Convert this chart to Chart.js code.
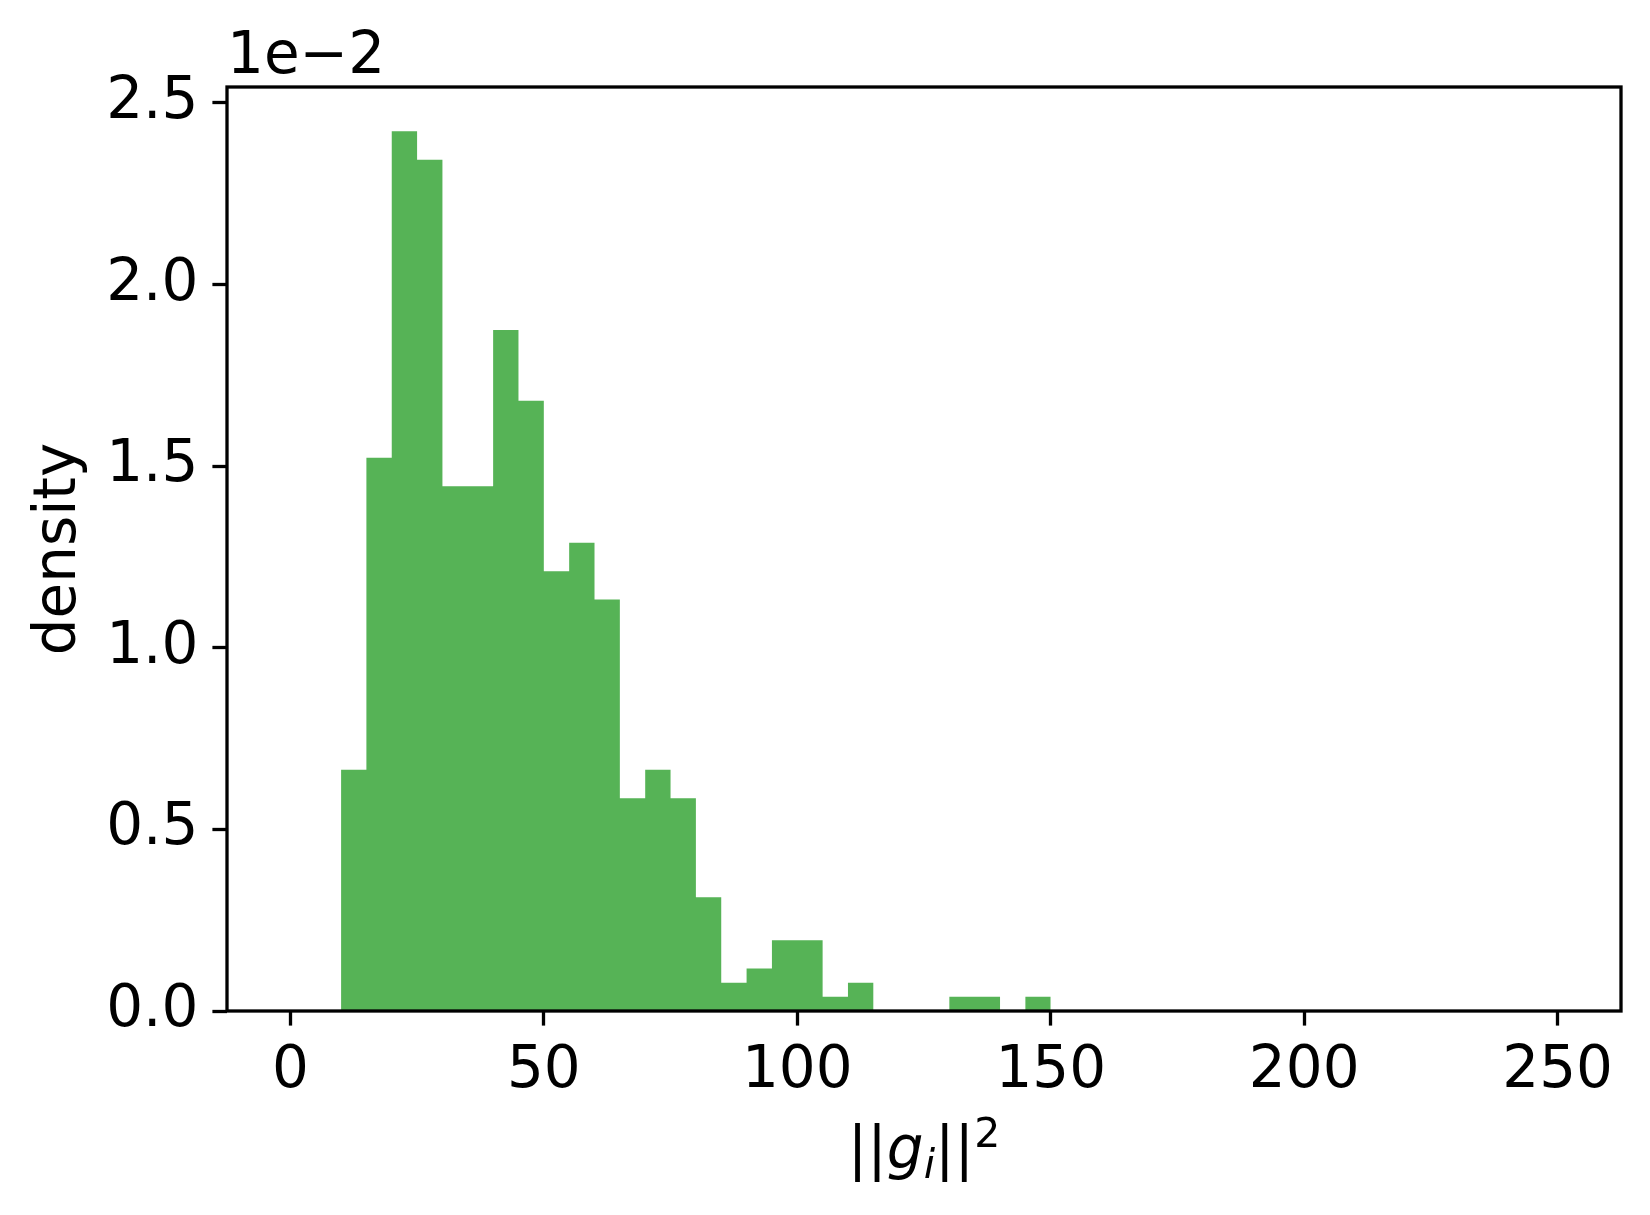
<!DOCTYPE html>
<html>
<head>
<meta charset="utf-8">
<script src="https://cdn.jsdelivr.net/npm/chart.js@4.4.1/dist/chart.umd.min.js"></script>
<style>
  body { margin: 0; background: #fff; }
  canvas { display: block; }
</style>
</head>
<body>
<canvas id="histCanvas" width="1650" height="1215"></canvas>
<script>
// histogram of ||g_i||^2, bins of width 5 (only the populated range listed)
const binWidth = 5;
const binLeft = [10, 15, 20, 25, 30, 35, 40, 45, 50, 55, 60, 65, 70, 75, 80, 85, 90, 95, 100, 105, 110, 115, 120, 125, 130, 135, 140, 145];
// density, in units of 1e-2
const density = [0.664, 1.523, 2.422, 2.344, 1.445, 1.445, 1.875, 1.680, 1.211, 1.289, 1.133, 0.586, 0.664, 0.586, 0.313, 0.078, 0.117, 0.195, 0.195, 0.039, 0.078, 0, 0, 0, 0.039, 0.039, 0, 0.039];

const xTicks = [0, 50, 100, 150, 200, 250];
const yTicks = [0, 0.5, 1.0, 1.5, 2.0, 2.5];

const FONT = 'DejaVu Sans';
const FONT_SIZE = 58;
const LINE_W = 3.3;

// stepped outline: each point starts a bin, last point closes the last bin
const points = binLeft.map((x, i) => ({ x, y: density[i] }));
points.push({ x: binLeft[binLeft.length - 1] + binWidth, y: 0 });

const frameAndLabels = {
  id: 'frameAndLabels',
  afterDraw(chart) {
    const { ctx, chartArea: a } = chart;
    ctx.save();
    ctx.strokeStyle = '#000';
    ctx.lineWidth = LINE_W;
    ctx.strokeRect(a.left, a.top, a.right - a.left, a.bottom - a.top);

    ctx.fillStyle = '#000';
    ctx.textBaseline = 'alphabetic';

    // offset text
    ctx.font = `${FONT_SIZE}px "${FONT}"`;
    ctx.textAlign = 'left';
    ctx.fillText('1e\u22122', a.left, 73);

    // y label
    ctx.save();
    ctx.translate(75, (a.top + a.bottom) / 2);
    ctx.rotate(-Math.PI / 2);
    ctx.textAlign = 'center';
    ctx.fillText('density', 0, 0);
    ctx.restore();

    // x label: ||g_i||^2
    const base = 1168;
    const small = Math.round(FONT_SIZE * 0.7);
    const parts = [
      { t: '||', font: `${FONT_SIZE}px "${FONT}"`, dy: 0 },
      { t: 'g', font: `italic ${FONT_SIZE}px "${FONT}"`, dy: 0 },
      { t: 'i', font: `italic ${small}px "${FONT}"`, dy: 10 },
      { t: '||', font: `${FONT_SIZE}px "${FONT}"`, dy: 0 },
      { t: '2', font: `${small}px "${FONT}"`, dy: -21 }
    ];
    let total = 0;
    parts.forEach(p => { ctx.font = p.font; p.w = ctx.measureText(p.t).width; total += p.w; });
    let x = (a.left + a.right) / 2 - total / 2;
    ctx.textAlign = 'left';
    parts.forEach(p => {
      ctx.font = p.font;
      ctx.fillText(p.t, x, base + p.dy);
      x += p.w;
    });
    ctx.restore();
  }
};

new Chart(document.getElementById('histCanvas'), {
  type: 'line',
  data: {
    datasets: [{
      data: points,
      stepped: 'before',
      fill: 'origin',
      backgroundColor: '#56b356',
      borderColor: 'rgba(0,0,0,0)',
      borderWidth: 1,
      pointRadius: 0
    }]
  },
  options: {
    responsive: false,
    animation: false,
    layout: { padding: { top: 87, right: 29, left: 0, bottom: 0 } },
    plugins: { legend: { display: false }, tooltip: { enabled: false } },
    scales: {
      x: {
        type: 'linear',
        min: -12.5,
        max: 262.5,
        offset: false,
        afterFit: (s) => { s.height = 204; },
        afterBuildTicks: (s) => { s.ticks = xTicks.map(v => ({ value: v })); },
        border: { display: false },
        grid: { drawOnChartArea: false, drawTicks: true, tickLength: 14.6, tickWidth: LINE_W, tickColor: '#000' },
        ticks: {
          autoSkip: false,
          maxRotation: 0,
          padding: 12,
          color: '#000',
          font: { family: FONT, size: FONT_SIZE },
          callback: (v) => String(v)
        }
      },
      y: {
        min: 0,
        max: 2.544,
        afterFit: (s) => { s.width = 227; },
        afterBuildTicks: (s) => { s.ticks = yTicks.map(v => ({ value: v })); },
        border: { display: false },
        grid: { drawOnChartArea: false, drawTicks: true, tickLength: 14.6, tickWidth: LINE_W, tickColor: '#000' },
        ticks: {
          padding: 14,
          color: '#000',
          font: { family: FONT, size: FONT_SIZE },
          callback: (v) => v.toFixed(1)
        }
      }
    }
  },
  plugins: [frameAndLabels]
});
</script>
</body>
</html>
